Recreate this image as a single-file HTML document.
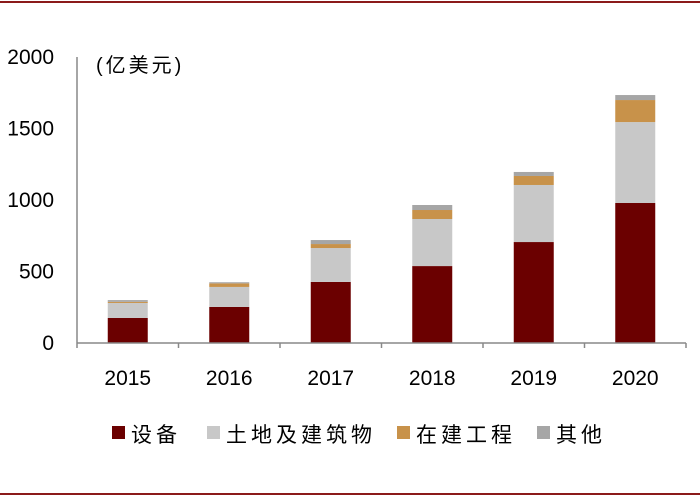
<!DOCTYPE html>
<html><head><meta charset="utf-8"><style>
body{margin:0;background:#fff;}
svg text{font-family:"Liberation Sans","Noto Sans CJK SC",sans-serif;fill:#000;}
</style></head><body>
<svg width="700" height="498" viewBox="0 0 700 498" xmlns="http://www.w3.org/2000/svg">
<line x1="0" y1="2" x2="700" y2="2" stroke="#8b1a1a" stroke-width="2"/>
<line x1="0" y1="494" x2="700" y2="494" stroke="#8b1a1a" stroke-width="2"/>
<text x="96" y="72" font-size="20" letter-spacing="3">(亿美元)</text>
<g id="plot"></g>
<g id="legend"></g>
</svg>
<script>
const categories=["2015","2016","2017","2018","2019","2020"];
const equipment=[175,252,427,538,706,979];
const land=[105,140,237,329,399,566];
const construction=[8,25,28,63,63,154];
const other=[12,8,28,35,28,35];
const yTicks=[0,500,1000,1500,2000];
const seriesNames=["设备","土地及建筑物","在建工程","其他"];
const colors=["#6b0000","#c8c8c8","#c8924a","#a6a6a6"];
const NS="http://www.w3.org/2000/svg";
const x0=77,x1=686,y0=343,yTop=57;
const ys=v=>y0-(v/2000)*(y0-yTop);
const step=(x1-x0)/categories.length;
const g=document.getElementById('plot');
function mk(t,a){const e=document.createElementNS(NS,t);for(const k in a)e.setAttribute(k,a[k]);return e;}
const all=[equipment,land,construction,other];
categories.forEach((c,i)=>{
  let base=0;const cx=x0+step*(i+0.5);
  all.forEach((s,j)=>{
    const r=mk('rect',{x:cx-20,y:ys(base+s[i]),width:40,height:ys(base)-ys(base+s[i]),fill:colors[j]});
    
    
    g.appendChild(r);base+=s[i];
  });
  const t=mk('text',{x:cx,y:385,'font-size':21,'text-anchor':'middle'});t.textContent=c;
  
  
  g.appendChild(t);
});
for(let i=0;i<=categories.length;i++){
  const l=mk('line',{x1:x0+step*i,y1:y0,x2:x0+step*i,y2:y0+5,stroke:'#888','stroke-width':1.5});
  
  
  g.appendChild(l);
}
const xa=mk('line',{x1:x0,y1:y0,x2:x1,y2:y0,stroke:'#888','stroke-width':1.5});


g.appendChild(xa);
const ya=mk('line',{x1:x0,y1:yTop,x2:x0,y2:y0,stroke:'#888','stroke-width':1.5});


g.appendChild(ya);
yTicks.forEach(v=>{
  const t=mk('text',{x:54,y:ys(v)+7,'font-size':21,'text-anchor':'end'});t.textContent=v;
  
  
  g.appendChild(t);
});
const lg=document.getElementById('legend');
const lx=[112,207,397,537];
seriesNames.forEach((n,j)=>{
  const r=mk('rect',{x:lx[j],y:426,width:13,height:13,fill:colors[j]});
  
  
  lg.appendChild(r);
  const t=mk('text',{x:lx[j]+19,y:442,'font-size':21,'letter-spacing':'4'});t.textContent=n;
  
  
  lg.appendChild(t);
});
</script>
</body></html>
